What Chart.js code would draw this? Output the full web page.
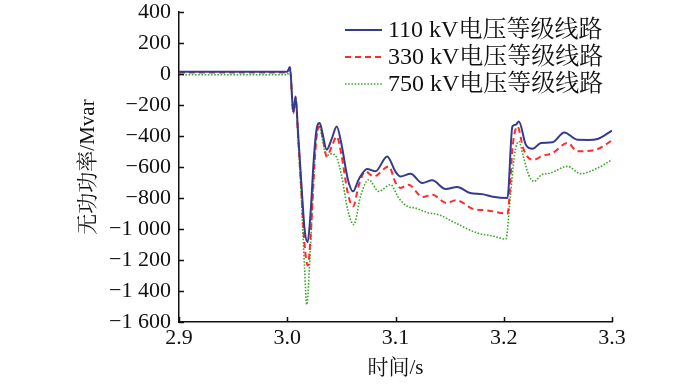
<!DOCTYPE html>
<html><head><meta charset="utf-8">
<script src="https://cdn.jsdelivr.net/npm/chart.js@4/dist/chart.umd.min.js"></script>
<style>html,body{margin:0;padding:0;background:#fff}#wrap{width:700px;height:385px}</style>
</head><body><div id="wrap"><canvas id="c"></canvas></div>
<script>
const seriesLabels = ['110 kV电压等级线路', '330 kV电压等级线路', '750 kV电压等级线路'];
const xTickValues = [2.9, 3.0, 3.1, 3.2, 3.3];
const yTickValues = [400, 200, 0, -200, -400, -600, -800, -1000, -1200, -1400, -1600];

const t110 = [2.9, 3.0, 3.0025, 3.0056, 3.0077, 3.010, 3.013, 3.016, 3.0188, 3.0215, 3.0245, 3.027, 3.030, 3.0325, 3.0364, 3.041, 3.0457, 3.050, 3.056, 3.0608, 3.066, 3.0738, 3.0815, 3.0923, 3.100, 3.1046, 3.1139, 3.1247, 3.134, 3.1463, 3.157, 3.169, 3.180, 3.190, 3.2034, 3.208, 3.211, 3.214, 3.2204, 3.2266, 3.2343, 3.245, 3.2559, 3.268, 3.278, 3.2867, 3.300];
const q110 = [15, 15, 45, -245, -145, -380, -700, -1000, -1085, -900, -550, -360, -316, -380, -488, -420, -338, -450, -680, -757, -680, -613, -628, -532, -630, -661, -643, -703, -686, -742, -729, -768, -775, -792, -800, -338, -327, -306, -456, -482, -445, -441, -377, -424, -425, -419, -365];

const t330 = [2.9, 3.0, 3.0025, 3.0056, 3.0077, 3.010, 3.013, 3.016, 3.019, 3.022, 3.025, 3.0275, 3.030, 3.033, 3.0364, 3.041, 3.0457, 3.050, 3.056, 3.0608, 3.066, 3.072, 3.080, 3.0938, 3.100, 3.1046, 3.112, 3.125, 3.134, 3.147, 3.156, 3.172, 3.185, 3.2034, 3.2085, 3.2127, 3.218, 3.223, 3.228, 3.235, 3.245, 3.259, 3.268, 3.287, 3.300];
const q330 = [10, 10, 42, -250, -150, -400, -750, -1100, -1235, -1000, -600, -380, -338, -420, -531, -470, -403, -520, -770, -854, -720, -628, -661, -596, -700, -735, -714, -794, -779, -832, -815, -871, -880, -901, -450, -338, -480, -542, -553, -530, -510, -445, -499, -484, -428];

const t750 = [2.9, 3.0, 3.0025, 3.0056, 3.0077, 3.010, 3.013, 3.016, 3.018, 3.0205, 3.0235, 3.0265, 3.030, 3.033, 3.036, 3.040, 3.045, 3.050, 3.056, 3.0614, 3.068, 3.0753, 3.0845, 3.0954, 3.103, 3.111, 3.1183, 3.130, 3.140, 3.155, 3.1756, 3.190, 3.2019, 3.206, 3.210, 3.214, 3.218, 3.223, 3.228, 3.235, 3.243, 3.259, 3.271, 3.2867, 3.300];
const q750 = [-5, -5, 35, -255, -155, -420, -800, -1250, -1488, -1250, -800, -430, -347, -440, -530, -515, -530, -650, -880, -972, -780, -682, -757, -714, -800, -854, -865, -895, -908, -960, -1026, -1045, -1065, -800, -520, -435, -530, -650, -693, -650, -639, -596, -643, -607, -553];

const FONT = '"Liberation Serif", "Times New Roman", "Noto Serif CJK SC", "Noto Sans CJK SC", serif';

function pts(t, q) { return t.map((x, i) => ({x: x, y: q[i]})); }
function fmtY(v) {
  const a = Math.abs(v);
  let s = String(a);
  if (a >= 1000) s = s.slice(0, s.length - 3) + ' ' + s.slice(-3);
  return (v < 0 ? '\u2212' : '') + s;
}

const styles = [
  {color: '#353b8e', width: 2, dash: []},
  {color: '#ff2a2a', width: 2, dash: [6, 4]},
  {color: '#3ca82a', width: 1.6, dash: [1.6, 1.6]}
];

const legendPlugin = {
  id: 'customLegend',
  afterDraw(chart) {
    const ctx = chart.ctx;
    const rows = [30, 57, 84];
    chart.data.datasets.forEach((ds, i) => {
      ctx.save();
      ctx.strokeStyle = ds.borderColor;
      ctx.lineWidth = ds.borderWidth;
      ctx.setLineDash(ds.borderDash || []);
      ctx.beginPath();
      ctx.moveTo(345, rows[i]);
      ctx.lineTo(382, rows[i]);
      ctx.stroke();
      ctx.setLineDash([]);
      ctx.fillStyle = '#111';
      ctx.font = '24px ' + FONT;
      ctx.textBaseline = 'middle';
      ctx.textAlign = 'left';
      ctx.fillText(ds.label, 388, rows[i] + 1);
      ctx.restore();
    });
  }
};

const ticksPlugin = {
  id: 'inTicks',
  afterDraw(chart) {
    const ctx = chart.ctx;
    const xs = chart.scales.x, ys = chart.scales.y;
    const ca = chart.chartArea;
    ctx.save();
    ctx.strokeStyle = '#111';
    ctx.lineWidth = 1.5;
    ctx.beginPath();
    yTickValues.forEach(v => {
      const y = Math.round(ys.getPixelForValue(v)) + 0.5;
      ctx.moveTo(ca.left, y); ctx.lineTo(ca.left + 5, y);
    });
    xTickValues.forEach(v => {
      const x = Math.round(xs.getPixelForValue(v)) + 0.5;
      ctx.moveTo(x, ca.bottom); ctx.lineTo(x, ca.bottom - 5);
    });
    ctx.stroke();
    ctx.restore();
  }
};

new Chart(document.getElementById('c'), {
  type: 'line',
  data: {
    datasets: [
      {label: seriesLabels[0], data: pts(t110, q110)},
      {label: seriesLabels[1], data: pts(t330, q330)},
      {label: seriesLabels[2], data: pts(t750, q750)}
    ].map((d, i) => Object.assign(d, {
      borderColor: styles[i].color,
      borderWidth: styles[i].width,
      borderDash: styles[i].dash,
      pointRadius: 0,
      fill: false,
      cubicInterpolationMode: 'monotone'
    }))
  },
  options: {
    responsive: true,
    maintainAspectRatio: false,
    animation: false,
    events: [],
    layout: {padding: {left: 70, right: 88, top: 12, bottom: 2}},
    plugins: {legend: {display: false}, tooltip: {enabled: false}},
    scales: {
      x: {
        type: 'linear', min: 2.9, max: 3.3,
        afterBuildTicks(s) { s.ticks = xTickValues.map(v => ({value: v})); },
        afterFit(s) { s.height = 385 - 322 - 2; s.paddingLeft = 0; s.paddingRight = 0; },
        ticks: {callback: v => v.toFixed(1), color: '#111', font: {family: FONT, size: 22}, padding: 3, maxRotation: 0, autoSkip: false},
        grid: {display: false, drawTicks: false},
        border: {display: true, color: '#111', width: 1.5},
        title: {display: true, text: '时间/s', color: '#111', font: {family: FONT, size: 21}, padding: {top: 0, bottom: 2}}
      },
      y: {
        type: 'linear', min: -1600, max: 400,
        afterBuildTicks(s) { s.ticks = yTickValues.map(v => ({value: v})); },
        afterFit(s) { s.width = 179 - 70; s.paddingTop = 0; s.paddingBottom = 0; },
        ticks: {callback: v => fmtY(v), color: '#111', font: {family: FONT, size: 22}, padding: 8, autoSkip: false},
        grid: {display: false, drawTicks: false},
        border: {display: true, color: '#111', width: 1.5},
        title: {display: true, text: '无功功率/Mvar', color: '#111', font: {family: FONT, size: 21}, padding: {top: 6, bottom: 0}}
      }
    }
  },
  plugins: [legendPlugin, ticksPlugin]
});
</script>
</body></html>
